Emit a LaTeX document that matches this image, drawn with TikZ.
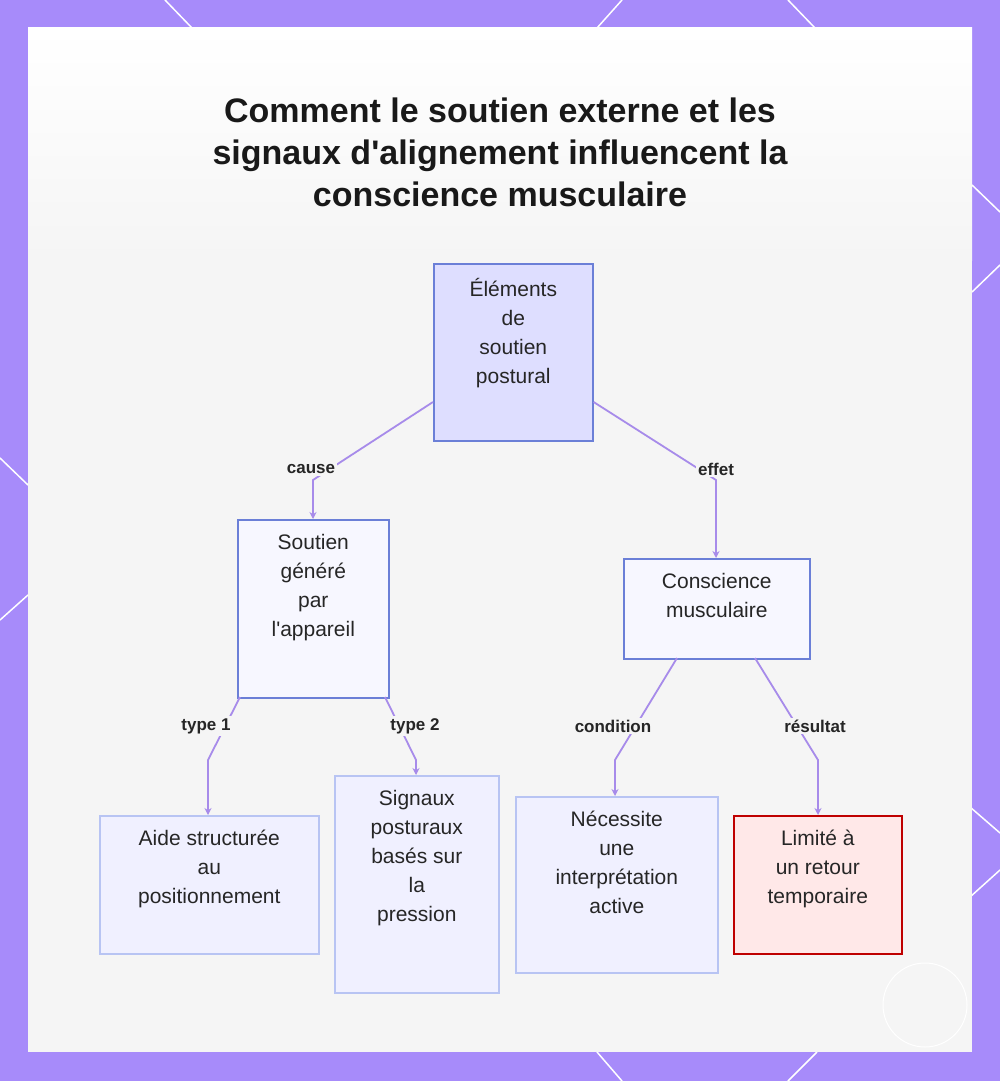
\documentclass[tikz,border=0pt]{standalone}
\usepackage{fontspec}
\setmainfont[Ligatures=NoCommon]{Liberation Sans}
\usetikzlibrary{arrows.meta}
\definecolor{frame}{HTML}{A78BFA}
\definecolor{panel}{HTML}{F5F5F5}
\definecolor{edge}{HTML}{A78BEA}
\definecolor{bdark}{HTML}{6B7FD7}
\definecolor{blight}{HTML}{B8C4F3}
\tikzset{
  x=1pt,y=-1pt,
  bx/.style n args={4}{draw=#3,fill=#4,line width=1.6pt,anchor=north west,inner sep=0pt,
     minimum width=#1,minimum height=#2,align=center},
  conn/.style={draw=edge,line width=1.8pt,-{Stealth[length=7pt,width=7pt]}},
  lbl/.style={font=\bfseries\fontsize{17}{20}\selectfont,fill=panel,inner sep=2pt,text=black!85},
  wl/.style={draw=white,line width=1.5pt}
}
\newcommand{\bt}[3]{\parbox[t][#2pt][t]{#1pt}{\centering\vspace{14pt}\fontsize{21}{29}\selectfont\color{black!85}#3}}
\begin{document}
\begin{tikzpicture}
\useasboundingbox (0,0) rectangle (1000,1081);
\fill[frame] (0,0) rectangle (1000,1081);
\foreach \a/\b/\c/\d in {165/0/192/28, 622/0/597/28, 788/0/815/28, 597/1052/622/1081, 817/1052/788/1081,
  0/458/28/485, 0/620/28/595, 972/185/1000/212, 972/292/1000/265, 970/807/1000/833, 970/897/1000/870}
  \draw[wl] (\a,\b) -- (\c,\d);
\fill[panel] (28,28) rectangle (972,1052);
\shade[top color=white,bottom color=panel] (28,28) rectangle (972,260);
\draw[white,line width=1pt] (925,1005) circle (42);
\node[font=\bfseries\fontsize{34}{42}\selectfont,align=center,text=black!90] (title) at (500,152)
  {Comment le soutien externe et les\\signaux d\textquotesingle alignement influencent la\\conscience musculaire};

\node[bx={159pt}{177pt}{bdark}{blue!13}] (root) at (433,263) {\bt{159}{177}{Éléments\\de\\soutien\\postural}};
\node[bx={151pt}{178pt}{bdark}{blue!3}] (sout) at (237,519) {\bt{151}{178}{Soutien\\généré\\par\\l\textquotesingle appareil}};
\node[bx={186pt}{100pt}{bdark}{blue!3}] (consc) at (623,558) {\bt{186}{100}{Conscience\\musculaire}};
\node[bx={219pt}{138pt}{blight}{blue!6}] (aide) at (99,815) {\bt{219}{138}{Aide structurée\\au\\positionnement}};
\node[bx={164pt}{217pt}{blight}{blue!6}] (sig) at (334,775) {\bt{164}{217}{Signaux\\posturaux\\basés sur\\la\\pression}};
\node[bx={202pt}{176pt}{blight}{blue!6}] (nec) at (515,796) {\bt{202}{176}{Nécessite\\une\\interprétation\\active}};
\node[bx={168pt}{138pt}{red!75!black}{red!9}] (lim) at (733,815) {\bt{168}{138}{Limité à\\un retour\\temporaire}};

\draw[conn] (root.west |- 0,402) -- (313,480) -- (sout.north -| 313,0);
\draw[conn] (root.east |- 0,402) -- (716,480) -- (consc.north -| 716,0);
\draw[conn] (240,697) -- (208,760) -- (aide.north -| 208,0);
\draw[conn] (385,697) -- (416,760) -- (sig.north -| 416,0);
\draw[conn] (677,658) -- (615,760) -- (nec.north -| 615,0);
\draw[conn] (755,658) -- (818,760) -- (lim.north -| 818,0);
\node[lbl] (l1) at (311,469) {cause};
\node[lbl] (l2) at (716,469) {effet};
\node[lbl] (l3) at (206,726) {type 1};
\node[lbl] (l4) at (415,726) {type 2};
\node[lbl] (l5) at (613,726) {condition};
\node[lbl] (l6) at (815,726) {résultat};
\end{tikzpicture}
\end{document}
